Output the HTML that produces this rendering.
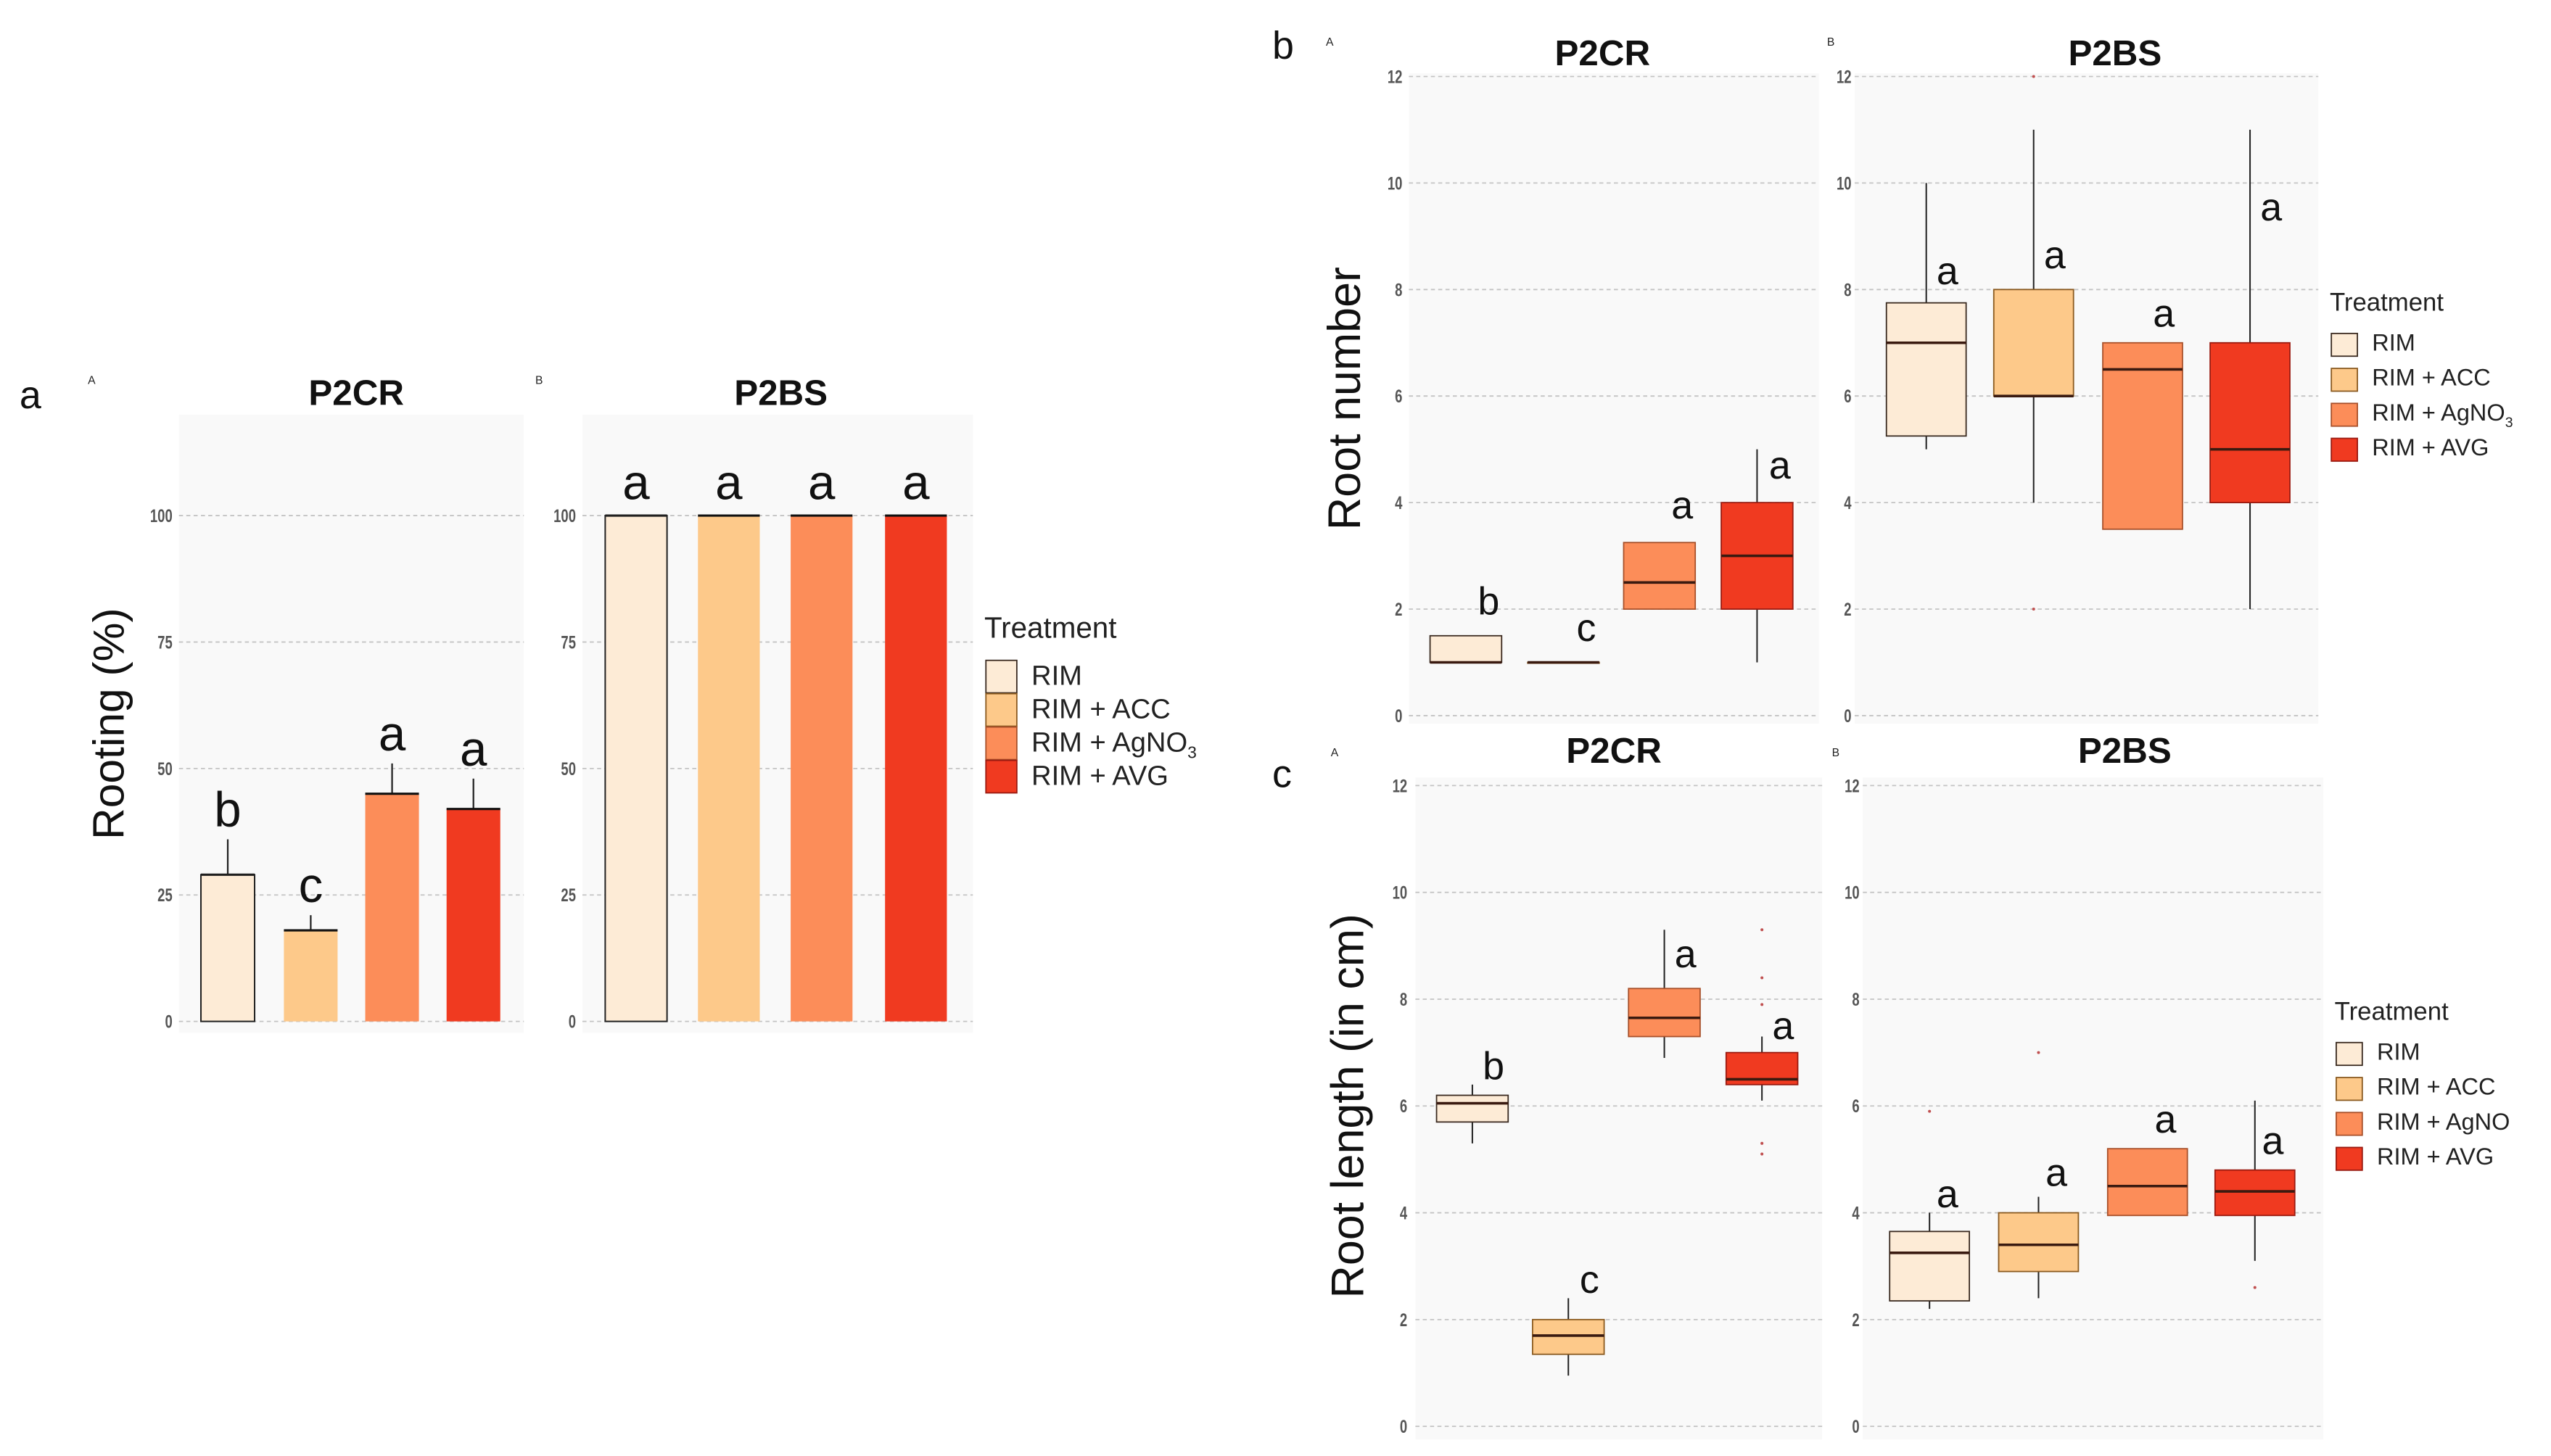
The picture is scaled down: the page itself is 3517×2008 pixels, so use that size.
<!DOCTYPE html>
<html><head><meta charset="utf-8"><style>
html,body{margin:0;padding:0;background:#fff;}
svg{display:block;font-family:"Liberation Sans",sans-serif;}
</style></head><body>
<svg id="fig" width="3517" height="2008" viewBox="0 0 1568 895.2" xmlns="http://www.w3.org/2000/svg"></svg>
<script>
const treatments = ["RIM","RIM + ACC","RIM + AgNO3","RIM + AVG"];
const colors = ["#FDEBD6","#FDC98A","#FC8D59","#F03A20"];
const strokes = ["#3a2a20","#8a5a20","#a8502a","#9a1a10"];
// panel a: rooting %
const rootP2CR = [29, 18, 45, 42];
const rootP2CRerr = [36, 21, 51, 48];
const rootP2CRletters = ["b","c","a","a"];
const rootP2BS = [100, 100, 100, 100];
const rootP2BSletters = ["a","a","a","a"];
const ticksA = [0,25,50,75,100];
// panel b: root number [lowWhisker, q1, median, q3, highWhisker]
const numP2CR = [[1,1,1,1.5,1.5],[1,1,1,1,1],[2,2,2.5,3.25,3.25],[1,2,3,4,5]];
const numP2CRout = [[],[],[],[]];
const numP2CRletters = ["b","c","a","a"];
const numP2CRletterY = [1.9, 1.4, 3.7, 4.45];
const numP2BS = [[5,5.25,7,7.75,10],[4,6,6,8,11],[3.5,3.5,6.5,7,7],[2,4,5,7,11]];
const numP2BSout = [[],[12,2],[],[]];
const numP2BSletters = ["a","a","a","a"];
const numP2BSletterY = [8.1, 8.4, 7.3, 9.3];
const ticksB = [0,2,4,6,8,10,12];
// panel c: root length
const lenP2CR = [[5.3,5.7,6.05,6.2,6.4],[0.95,1.35,1.7,2.0,2.4],[6.9,7.3,7.65,8.2,9.3],[6.1,6.4,6.5,7.0,7.3]];
const lenP2CRout = [[],[],[],[9.3,8.4,7.9,5.3,5.1]];
const lenP2CRletters = ["b","c","a","a"];
const lenP2CRletterY = [6.5, 2.5, 8.6, 7.25];
const lenP2BS = [[2.2,2.35,3.25,3.65,4.0],[2.4,2.9,3.4,4.0,4.3],[3.95,3.95,4.5,5.2,5.2],[3.1,3.95,4.4,4.8,6.1]];
const lenP2BSout = [[5.9],[7.0],[],[2.6]];
const lenP2BSletters = ["a","a","a","a"];
const lenP2BSletterY = [4.1, 4.5, 5.5, 5.1];
const ticksC = [0,2,4,6,8,10,12];

const NS="http://www.w3.org/2000/svg";
const svg=document.getElementById('fig');
function mk(tag,attrs,parent,text){const e=document.createElementNS(NS,tag);for(const k in attrs)e.setAttribute(k,attrs[k]);if(text!==undefined)e.textContent=text;(parent||svg).appendChild(e);return e;}

function scaleY(v0,v1,p0,p1){return v=>p0+(v-v0)*(p1-p0)/(v1-v0);}

function panelFrame(x0,x1,y0,y1,ticks,ys,labelX,title,titleX,titleY,tag,tagX,tagY,name){
  const g=mk('g',{});
  
  
  const bg=mk('rect',{x:x0,y:y0,width:x1-x0,height:y1-y0,fill:"#f9f9f9"},g);
  
  
  ticks.forEach(t=>{
    const gl=mk('line',{x1:x0,x2:x1,y1:ys(t),y2:ys(t),stroke:"#c4c4c4","stroke-width":0.8,"stroke-dasharray":"2.5,2"},g);
    
    
    const tl=mk('text',{x:labelX,y:ys(t)+4,"font-size":11,"font-weight":"bold",fill:"#555","text-anchor":"end",transform:`translate(${labelX},0) scale(0.75,1) translate(${-labelX},0)`},g,String(t));
    
    
  });
  const tt=mk('text',{x:titleX,y:titleY,"font-size":22,"font-weight":"bold","text-anchor":"middle",fill:"#111"},g,title);
  
  
  const tg=mk('text',{x:tagX,y:tagY,"font-size":7,fill:"#222"},g,tag);
  
  
  return g;
}

function bars(g,centers,w,vals,errs,letters,ys,letterFs,letterOff){
  vals.forEach((v,i)=>{
    const cx=centers[i];
    if(errs){
      const el=mk('line',{x1:cx,x2:cx,y1:ys(v),y2:ys(errs[i]),stroke:"#222","stroke-width":1},g);
      
      
    }
    const r=mk('rect',{x:cx-w/2,y:ys(v),width:w,height:ys(0)-ys(v),fill:colors[i]},g);
    
    
    const tl=mk('line',{x1:cx-w/2,x2:cx+w/2,y1:ys(v),y2:ys(v),stroke:"#111","stroke-width":1.4},g);
    
    
    if(i===0){
      const o=mk('rect',{x:cx-w/2,y:ys(v),width:w,height:ys(0)-ys(v),fill:"none",stroke:"#222","stroke-width":0.9},g);
      
      
    }
    const top=errs?errs[i]:v;
    const lt=mk('text',{x:cx,y:ys(top)-letterOff,"font-size":letterFs,"text-anchor":"middle",fill:"#111"},g,letters[i]);
    
    
  });
}

function boxes(g,centers,w,stats,outs,letters,letterY,letterDx,ys){
  stats.forEach((s,i)=>{
    const cx=centers[i];
    const [lo,q1,md,q3,hi]=s;
    const wk=mk('line',{x1:cx,x2:cx,y1:ys(lo),y2:ys(hi),stroke:"#222","stroke-width":0.9},g);
    
    
    const b=mk('rect',{x:cx-w/2,y:ys(q3),width:w,height:Math.max(ys(q1)-ys(q3),0.5),fill:colors[i],stroke:strokes[i],"stroke-width":0.8},g);
    
    
    const m=mk('line',{x1:cx-w/2,x2:cx+w/2,y1:ys(md),y2:ys(md),stroke:"#3a1a10","stroke-width":1.6},g);
    
    
    outs[i].forEach(o=>{
      const c=mk('circle',{cx:cx,cy:ys(o),r:0.9,fill:"#c05050"},g);
      
      
    });
    const lt=mk('text',{x:cx+letterDx,y:ys(letterY[i]),"font-size":24,"text-anchor":"middle",fill:"#111"},g,letters[i]);
    
    
  });
}

function legend(x,y,gap,fs,keyW,keyH,name,sub){
  const g=mk('g',{});
  
  
  const t=mk('text',{x:x,y:y,"font-size":fs+1,fill:"#222"},g,"Treatment");
  
  
  treatments.forEach((tr,i)=>{
    const yy=y+14+i*gap;
    const k=mk('rect',{x:x+1,y:yy,width:keyW,height:keyH,fill:colors[i],stroke:strokes[i],"stroke-width":0.8},g);
    
    
    const lbl=mk('text',{x:x+keyW+10,y:yy+keyH*0.75,"font-size":fs,fill:"#222"},g);
    
    
    if(tr.endsWith("NO3")&&sub){
      lbl.textContent="RIM + AgNO";
      mk('tspan',{"font-size":fs*0.6,dy:4},lbl,"3");
    } else if(tr.endsWith("NO3")){
      lbl.textContent="RIM + AgNO";
    } else lbl.textContent=tr;
  });
}

function txt(x,y,s,fs,name,extra){
  const e=mk('text',Object.assign({x:x,y:y,"font-size":fs,fill:"#111"},extra||{}),svg,s);
  
  
  return e;
}

// ---------- Panel a ----------
txt(12,251,"a",24,"panel-label-a");
const ysA=scaleY(0,100,628,317);
const gA1=panelFrame(110,322,255,635,ticksA,ysA,106,"P2CR",219,249,"A",54,236,"panel-a-p2cr");
bars(gA1,[140,191,241,291],33,rootP2CR,rootP2CRerr,rootP2CRletters,ysA,30,8);
const gA2=panelFrame(358,598,255,635,ticksA,ysA,354,"P2BS",480,249,"B",329,236,"panel-a-p2bs");
bars(gA2,[391,448,505,563],38,rootP2BS,null,rootP2BSletters,ysA,30,10);
txt(76,445,"Rooting (%)",27,"y-axis-title-rooting",{"text-anchor":"middle",transform:"rotate(-90 76 445)"});
legend(605,392,20.5,17,19,20,"legend-a",true);

// ---------- Panel b ----------
txt(782,36,"b",24,"panel-label-b");
const ysB=scaleY(0,12,440,47);
const gB1=panelFrame(866,1118,45,445,ticksB,ysB,862,"P2CR",985,40,"A",815,28,"panel-b-p2cr");
boxes(gB1,[901,961,1020,1080],44,numP2CR,numP2CRout,numP2CRletters,numP2CRletterY,14,ysB);
const gB2=panelFrame(1140,1425,45,445,ticksB,ysB,1138,"P2BS",1300,40,"B",1123,28,"panel-b-p2bs");
boxes(gB2,[1184,1250,1317,1383],49,numP2BS,numP2BSout,numP2BSletters,numP2BSletterY,13,ysB);
txt(836,245,"Root number",28,"y-axis-title-root-number",{"text-anchor":"middle",transform:"rotate(-90 836 245)"});
legend(1432,191,21.5,14.5,16,14,"legend-b",true);

// ---------- Panel c ----------
txt(782,484,"c",24,"panel-label-c");
const ysC=scaleY(0,12,877,483);
const gC1=panelFrame(870,1120,478,885,ticksC,ysC,865,"P2CR",992,469,"A",818,465,"panel-c-p2cr");
boxes(gC1,[905,964,1023,1083],44,lenP2CR,lenP2CRout,lenP2CRletters,lenP2CRletterY,13,ysC);
const gC2=panelFrame(1145,1428,478,885,ticksC,ysC,1143,"P2BS",1306,469,"B",1126,465,"panel-c-p2bs");
boxes(gC2,[1186,1253,1320,1386],49,lenP2BS,lenP2BSout,lenP2BSletters,lenP2BSletterY,11,ysC);
txt(838,680,"Root length (in cm)",28,"y-axis-title-root-length",{"text-anchor":"middle",transform:"rotate(-90 838 680)"});
legend(1435,627,21.5,14.5,16,14,"legend-c",false);
</script>
</body></html>
